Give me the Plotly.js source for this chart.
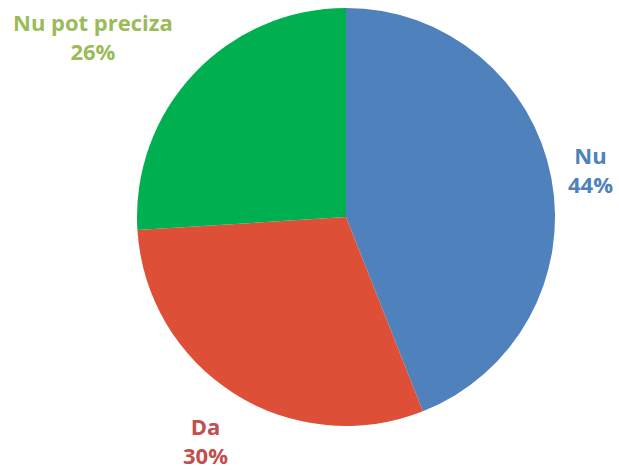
<!DOCTYPE html>
<html><head><meta charset="utf-8">
<script src="https://cdn.plot.ly/plotly-3.0.1.min.js"></script>
<style>html,body{margin:0;padding:0;background:#fff}#chart{width:619px;height:470px}</style>
</head><body><div id="chart"></div>
<script>
const categories = ["Nu", "Da", "Nu pot preciza"];
const values = [44, 30, 26];
const sliceColors = ["#4F81BD", "#DD4F37", "#00B050"];
const labelColors = ["#4F81BD", "#C0504D", "#9BBB59"];

const labelPos = [[590, 170], [205, 440], [93, 37]];
const W = 619, H = 470;
const total = values.reduce((a, b) => a + b, 0);

const annotations = categories.map((c, i) => ({
  x: labelPos[i][0] / W, y: 1 - labelPos[i][1] / H, xref: "paper", yref: "paper",
  text: c + "<br>" + Math.round(values[i] / total * 100) + "%",
  showarrow: false, xanchor: "center", yanchor: "middle", align: "center",
  font: {family: "'Open Sans', sans-serif", size: 22, color: labelColors[i], weight: "bold"}
}));

Plotly.newPlot("chart", [{
  type: "pie", labels: categories, values: values, sort: false,
  direction: "clockwise", rotation: 0,
  marker: {colors: sliceColors, line: {color: "#ffffff", width: 0}},
  textinfo: "none", hoverinfo: "label+percent",
  domain: {x: [137 / W, 555 / W], y: [1 - 426 / H, 1 - 8 / H]}
}], {
  width: W, height: H, showlegend: false,
  margin: {l: 0, r: 0, t: 0, b: 0},
  paper_bgcolor: "#fff", annotations: annotations
}, {displayModeBar: false, staticPlot: true});
</script></body></html>
